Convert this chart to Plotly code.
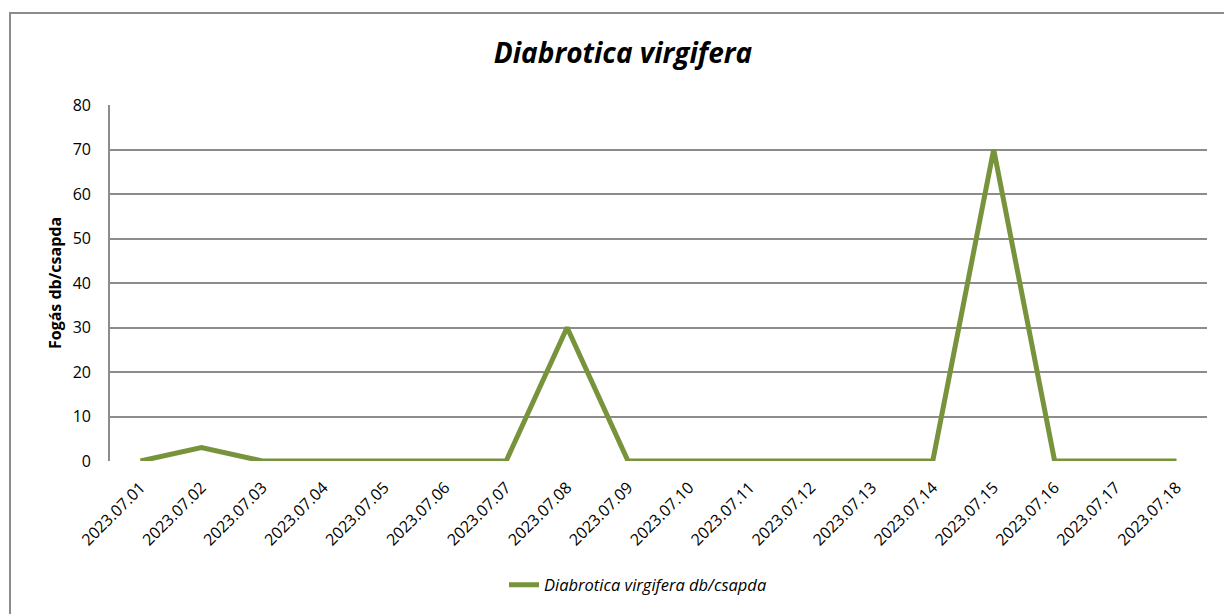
import plotly.graph_objects as go

dates = ["2023.07.01", "2023.07.02", "2023.07.03", "2023.07.04", "2023.07.05", "2023.07.06",
         "2023.07.07", "2023.07.08", "2023.07.09", "2023.07.10", "2023.07.11", "2023.07.12",
         "2023.07.13", "2023.07.14", "2023.07.15", "2023.07.16", "2023.07.17", "2023.07.18"]
values = [0, 3, 0, 0, 0, 0, 0, 30, 0, 0, 0, 0, 0, 0, 70, 0, 0, 0]
series_name = "<i>Diabrotica virgifera db/csapda</i>"
title_text = "<b><i>Diabrotica virgifera</i></b>"
y_title = "<b>Fogás db/csapda</b>"

W, H = 1224, 614
L, R, T, B = 110, 17, 105, 153
pw, ph = W - L - R, H - T - B

def px(x):
    return (x - L) / pw

def py(y):
    return (H - B - y) / ph

FONT = "Open Sans, Noto Sans, sans-serif"

fig = go.Figure()
fig.add_trace(go.Scatter(x=dates, y=values, mode="lines", name=series_name,
                         line=dict(color="#77933C", width=5)))

fig.update_layout(
    width=W, height=H,
    margin=dict(l=L, r=R, t=T, b=B),
    paper_bgcolor="white", plot_bgcolor="white",
    font=dict(family=FONT, color="#000000", size=16),
    title=dict(text=title_text, xref="container", x=623 / W, xanchor="center",
               yref="container", y=1 - 53 / H, yanchor="middle",
               font=dict(size=28, family=FONT)),
    showlegend=True,
    legend=dict(orientation="h", x=px(638), xanchor="center", y=py(585), yanchor="middle",
                font=dict(size=16.5), bgcolor="rgba(0,0,0,0)"),
    xaxis=dict(type="category", tickangle=-45, showgrid=False, showline=False,
               ticks="outside", ticklen=10, tickcolor="rgba(0,0,0,0)",
               tickfont=dict(size=16), range=[-0.5, len(dates) - 0.5]),
    yaxis=dict(range=[0, 80], dtick=10, showgrid=True, gridcolor="#8c8c8c", gridwidth=1.6,
               showline=True, linecolor="#8c8c8c", linewidth=1.6, zeroline=False,
               ticks="outside", ticklen=14, tickcolor="rgba(0,0,0,0)",
               tickfont=dict(size=16),
               title=dict(text=y_title, font=dict(size=16), standoff=7)),
    shapes=[dict(type="rect", xref="paper", yref="paper",
                 x0=px(10), x1=px(1240), y0=py(630), y1=py(13),
                 line=dict(color="#8c8c8c", width=2), fillcolor="rgba(0,0,0,0)", layer="below")],
)

fig.write_html("out.html", config={"displayModeBar": False},
               post_script="document.body.style.margin='0';document.body.style.overflow='hidden';")
